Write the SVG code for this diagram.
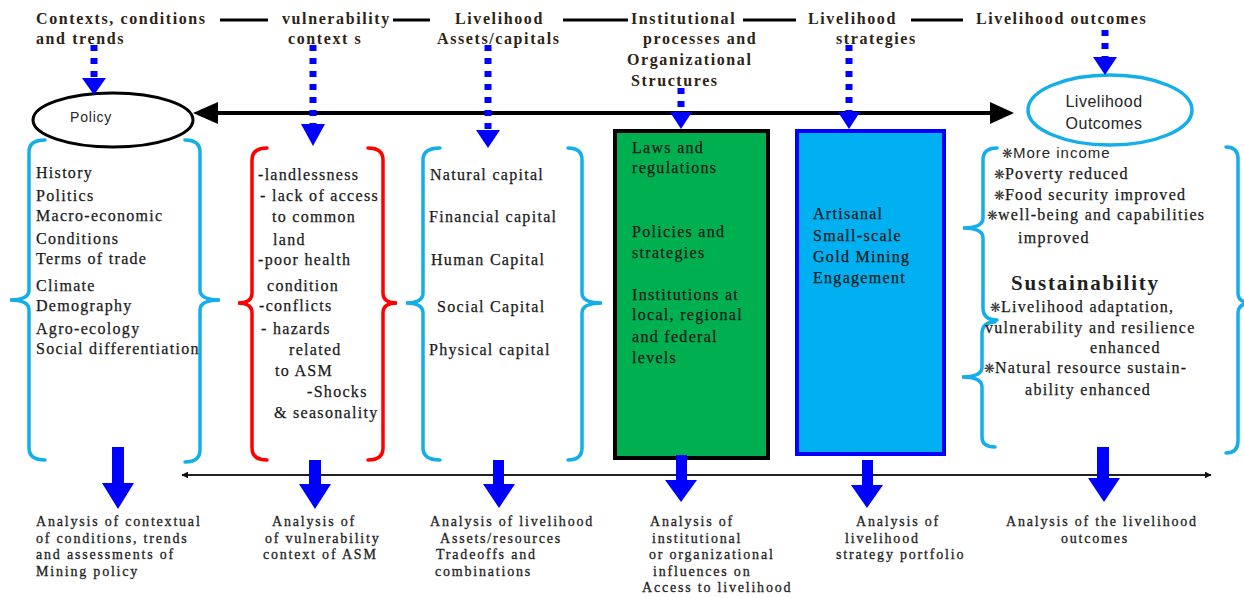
<svg xmlns="http://www.w3.org/2000/svg" width="1244" height="598" viewBox="0 0 1244 598">
<defs>
<style>
.hd{font-family:"Liberation Serif",serif;font-weight:bold;font-size:16px;letter-spacing:1.6px;fill:#2d2315}
.bd{font-family:"Liberation Serif",serif;font-size:16px;letter-spacing:1.3px;fill:#1a1a1a;stroke:#1a1a1a;stroke-width:0.25}
.bt{font-family:"Liberation Serif",serif;font-size:14px;letter-spacing:1.8px;fill:#1f1f1f;stroke:#1f1f1f;stroke-width:0.3}
.sn{font-family:"Liberation Sans",sans-serif;font-size:16px;letter-spacing:0.5px;fill:#262626}
.bul{font-family:"DejaVu Sans",sans-serif;font-size:13px}
.brb{fill:none;stroke:#14aeea;stroke-width:3.5;stroke-linecap:round}
.brr{fill:none;stroke:#ff0000;stroke-width:3.5;stroke-linecap:round}
.hl{stroke:#000;stroke-width:3}
.dot{stroke:#0000ff;stroke-width:7;stroke-dasharray:6 7;fill:none}
.bh{fill:#0000ff}
</style>
<marker id="ah" viewBox="0 0 10 10" refX="9" refY="5" markerWidth="7" markerHeight="7" orient="auto-start-reverse" markerUnits="userSpaceOnUse"><path d="M0,0 L10,5 L0,10 z" fill="#111"/></marker>
</defs>
<rect width="1244" height="598" fill="#fff"/>

<g id="headers">
<line class="hl" x1="220" y1="20" x2="268" y2="20"/>
<line class="hl" x1="393" y1="20" x2="430" y2="20"/>
<line class="hl" x1="563" y1="20" x2="628" y2="20"/>
<line class="hl" x1="743" y1="20" x2="796" y2="20"/>
<line class="hl" x1="911" y1="20" x2="963" y2="20"/>
<text class="hd" x="36" y="24">Contexts, conditions</text>
<text class="hd" x="36" y="44">and trends</text>
<text class="hd" x="282" y="24">vulnerability</text>
<text class="hd" x="288" y="44">context s</text>
<text class="hd" x="455" y="24">Livelihood</text>
<text class="hd" x="437" y="44">Assets/capitals</text>
<text class="hd" x="631" y="24">Institutional</text>
<text class="hd" x="643" y="44">processes and</text>
<text class="hd" x="627" y="65">Organizational</text>
<text class="hd" x="631" y="86">Structures</text>
<text class="hd" x="808" y="24">Livelihood</text>
<text class="hd" x="836" y="44">strategies</text>
<text class="hd" x="976" y="24">Livelihood outcomes</text>
</g>

<g id="policy">
<ellipse cx="113" cy="120" rx="80" ry="27" fill="#fff" stroke="#000" stroke-width="3"/>
<text class="sn" x="70" y="122" style="font-size:14px;letter-spacing:0.8px">Policy</text>
</g>

<g id="outcomes-ellipse">
<ellipse cx="1110" cy="110" rx="82" ry="35" fill="#fff" stroke="#14aeea" stroke-width="3.5"/>
<text class="sn" x="1104" y="107" text-anchor="middle">Livelihood</text>
<text class="sn" x="1104" y="129" text-anchor="middle">Outcomes</text>
</g>

<g id="contexts">
<path class="brb" d="M45,140 Q29,140 29,152 L29,290 Q29,300 10,300 Q29,300 29,310 L29,448 Q29,460 45,460"/>
<path class="brb" d="M185,140 Q200,140 200,152 L200,290 Q200,300 220,300 Q200,300 200,310 L200,450 Q200,462 185,462"/>
<text class="bd" x="36" y="178">History</text>
<text class="bd" x="36" y="201">Politics</text>
<text class="bd" x="36" y="221">Macro-economic</text>
<text class="bd" x="36" y="244">Conditions</text>
<text class="bd" x="36" y="264">Terms of trade</text>
<text class="bd" x="36" y="291">Climate</text>
<text class="bd" x="36" y="311">Demography</text>
<text class="bd" x="36" y="334">Agro-ecology</text>
<text class="bd" x="36" y="354">Social differentiation</text>
</g>

<g id="vulnerability">
<path class="brr" d="M267,148 Q252,148 252,160 L252,293 Q252,303 238,303 Q252,303 252,313 L252,448 Q252,460 267,460"/>
<path class="brr" d="M368,148 Q383,148 383,160 L383,293 Q383,303 397,303 Q383,303 383,313 L383,448 Q383,460 368,460"/>
<text class="bd" x="258" y="180">-landlessness</text>
<text class="bd" x="260" y="201">- lack of access</text>
<text class="bd" x="272" y="222">to common</text>
<text class="bd" x="273" y="245">land</text>
<text class="bd" x="258" y="265">-poor health</text>
<text class="bd" x="267" y="291">condition</text>
<text class="bd" x="259" y="311">-conflicts</text>
<text class="bd" x="261" y="334">- hazards</text>
<text class="bd" x="289" y="355">related</text>
<text class="bd" x="275" y="376">to ASM</text>
<text class="bd" x="307" y="397">-Shocks</text>
<text class="bd" x="274" y="418">&amp; seasonality</text>
</g>

<g id="assets">
<path class="brb" d="M440,148 Q423,148 423,160 L423,293 Q423,303 406,303 Q423,303 423,313 L423,448 Q423,460 440,460"/>
<path class="brb" d="M568,148 Q582,148 582,160 L582,293 Q582,303 602,303 Q582,303 582,313 L582,448 Q582,460 568,460"/>
<text class="bd" x="430" y="180">Natural capital</text>
<text class="bd" x="429" y="222">Financial capital</text>
<text class="bd" x="431" y="265">Human Capital</text>
<text class="bd" x="437" y="312">Social Capital</text>
<text class="bd" x="429" y="355">Physical capital</text>
</g>

<g id="institutions">
<rect x="615" y="131" width="153" height="327" fill="#00b050" stroke="#000" stroke-width="4"/>
<text class="bd" x="632" y="153">Laws and</text>
<text class="bd" x="632" y="173">regulations</text>
<text class="bd" x="632" y="237">Policies and</text>
<text class="bd" x="632" y="258">strategies</text>
<text class="bd" x="632" y="300">Institutions at</text>
<text class="bd" x="632" y="320">local, regional</text>
<text class="bd" x="632" y="342">and federal</text>
<text class="bd" x="632" y="363">levels</text>
</g>

<g id="strategies">
<rect x="797" y="131" width="147" height="323" fill="#00b0f0" stroke="#0000ff" stroke-width="4"/>
<text class="bd" x="813" y="219">Artisanal</text>
<text class="bd" x="813" y="241">Small-scale</text>
<text class="bd" x="813" y="262">Gold Mining</text>
<text class="bd" x="813" y="283">Engagement</text>
</g>

<g id="outcomes">
<path class="brb" d="M997,148 Q983,148 983,160 L983,218 Q983,228 963,228 Q983,228 983,238 L983,308 Q983,320 997,320"/>
<path class="brb" d="M995,322 Q982,322 982,334 L982,367 Q982,377 962,377 Q982,377 982,387 L982,437 Q982,447 995,447"/>
<path class="brb" d="M1226,147 Q1238,147 1238,159 L1238,293 Q1238,303 1252,303 Q1238,303 1238,313 L1238,441 Q1238,453 1226,453"/>
<text x="1002" y="158"><tspan class="bul" fill="#333">❋</tspan><tspan class="sn" style="font-size:15px;letter-spacing:1px">More income</tspan></text>
<text x="994" y="179"><tspan class="bul" fill="#333">❋</tspan><tspan class="bd">Poverty reduced</tspan></text>
<text x="994" y="200"><tspan class="bul" fill="#333">❋</tspan><tspan class="bd">Food security improved</tspan></text>
<text x="987" y="220"><tspan class="bul" fill="#333">❋</tspan><tspan class="bd">well-being and capabilities</tspan></text>
<text class="bd" x="1018" y="243">improved</text>
<text x="1011" y="290" style="font-family:'Liberation Serif',serif;font-weight:bold;font-size:21px;letter-spacing:1.8px;fill:#1f1f1f">Sustainability</text>
<text x="990" y="312"><tspan class="bul" fill="#333">❋</tspan><tspan class="bd">Livelihood adaptation,</tspan></text>
<text class="bd" x="985" y="333">vulnerability and resilience</text>
<text class="bd" x="1090" y="353">enhanced</text>
<text x="984" y="373"><tspan class="bul" fill="#333">❋</tspan><tspan class="bd">Natural resource sustain-</tspan></text>
<text class="bd" x="1025" y="395">ability enhanced</text>
</g>

<g id="connectors">
<line x1="214" y1="113" x2="994" y2="113" stroke="#000" stroke-width="4"/>
<polygon points="193,113 218,102 218,124" fill="#000"/>
<polygon points="1014,113 990,102 990,124" fill="#000"/>
<line class="dot" x1="94" y1="45" x2="94" y2="78"/>
<polygon class="bh" points="82,78 106,78 94,95"/>
<line class="dot" x1="313" y1="45" x2="313" y2="124"/>
<polygon class="bh" points="301,124 325,124 313,146"/>
<line class="dot" x1="488" y1="45" x2="488" y2="130"/>
<polygon class="bh" points="476,130 500,130 488,148"/>
<line class="dot" x1="681" y1="88" x2="681" y2="112"/>
<polygon class="bh" points="670,112 692,112 681,129"/>
<line class="dot" x1="849" y1="45" x2="849" y2="112"/>
<polygon class="bh" points="838,112 860,112 849,129"/>
<line class="dot" x1="1105" y1="30" x2="1105" y2="57"/>
<polygon class="bh" points="1093,57 1117,57 1105,75"/>
<line x1="182" y1="475" x2="1211" y2="475" stroke="#222" stroke-width="2" marker-start="url(#ah)" marker-end="url(#ah)"/>
<path class="bh" d="M112,447 H124 V483 H134 L118,509 L102,483 H112 Z"/>
<path class="bh" d="M309,460 H321 V484 H331 L315,509 L299,484 H309 Z"/>
<path class="bh" d="M493,460 H504 V484 H515 L499,508 L483,484 H493 Z"/>
<path class="bh" d="M676,455 H687 V480 H697 L681,502 L665,480 H676 Z"/>
<path class="bh" d="M862,460 H873 V485 H883 L867,508 L851,485 H862 Z"/>
<path class="bh" d="M1097,447 H1109 V478 H1120 L1104,502 L1088,478 H1097 Z"/>
</g>

<g id="analysis">
<text class="bt" x="36" y="526">Analysis of contextual</text>
<text class="bt" x="36" y="543">of conditions, trends</text>
<text class="bt" x="36" y="559">and assessments of</text>
<text class="bt" x="36" y="576">Mining policy</text>
<text class="bt" x="272" y="526">Analysis of</text>
<text class="bt" x="265" y="543">of vulnerability</text>
<text class="bt" x="263" y="559">context of ASM</text>
<text class="bt" x="430" y="526">Analysis of livelihood</text>
<text class="bt" x="440" y="543">Assets/resources</text>
<text class="bt" x="436" y="559">Tradeoffs and</text>
<text class="bt" x="435" y="576">combinations</text>
<text class="bt" x="650" y="526">Analysis of</text>
<text class="bt" x="652" y="543">institutional</text>
<text class="bt" x="649" y="559">or organizational</text>
<text class="bt" x="653" y="576">influences on</text>
<text class="bt" x="642" y="592">Access to livelihood</text>
<text class="bt" x="856" y="526">Analysis of</text>
<text class="bt" x="845" y="543">livelihood</text>
<text class="bt" x="836" y="559">strategy portfolio</text>
<text class="bt" x="1006" y="526">Analysis of the livelihood</text>
<text class="bt" x="1061" y="543">outcomes</text>
</g>
</svg>
